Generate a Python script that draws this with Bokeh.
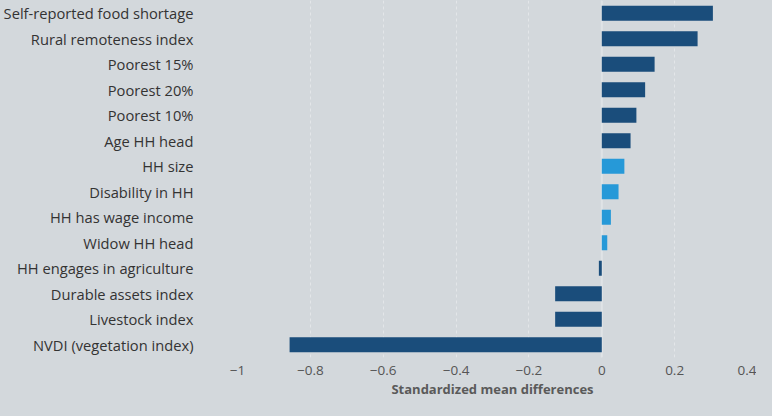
from bokeh.plotting import figure
from bokeh.models import FactorRange, Range1d, FixedTicker, CustomJSTickFormatter, Span, ColumnDataSource
from bokeh.embed import file_html
from bokeh.resources import INLINE

# ---- data (top to bottom as shown) ----
categories = [
    "Self-reported food shortage",
    "Rural remoteness index",
    "Poorest 15%",
    "Poorest 20%",
    "Poorest 10%",
    "Age HH head",
    "HH size",
    "Disability in HH",
    "HH has wage income",
    "Widow HH head",
    "HH engages in agriculture",
    "Durable assets index",
    "Livestock index",
    "NVDI (vegetation index)",
]
values = [0.305, 0.263, 0.145, 0.119, 0.095, 0.079, 0.062, 0.046, 0.025, 0.015,
          -0.008, -0.128, -0.128, -0.857]
highlight = [False, False, False, False, False, False, True, True, True, True,
             False, False, False, False]
x_ticks = [-1, -0.8, -0.6, -0.4, -0.2, 0, 0.2, 0.4]
x_title = "Standardized mean differences"

DARK = "#1a4d7b"
LIGHT = "#2699d8"
BG = "#d3d8dc"
FONT = "Open Sans"

src = ColumnDataSource(dict(
    cat=categories,
    val=values,
    color=[LIGHT if h else DARK for h in highlight],
))

p = figure(
    width=756, height=400,
    y_range=FactorRange(factors=list(reversed(categories)), range_padding=0),
    x_range=Range1d(x_ticks[0], x_ticks[-1]),
    output_backend="svg", toolbar_location=None,
    min_border_left=231, min_border_right=9, min_border_top=0, min_border_bottom=0,
)
p.background_fill_color = BG
p.border_fill_color = BG
p.outline_line_color = None

# grid
p.ygrid.grid_line_color = None
p.xgrid.grid_line_color = "#e3e6e9"
p.xgrid.grid_line_dash = "3 3"
p.xgrid.grid_line_width = 1
p.xgrid.ticker = FixedTicker(ticks=x_ticks)
zero = Span(location=0, dimension="height", line_color="#dfe3e6", line_width=2, level="underlay")
p.add_layout(zero)

p.hbar(y="cat", right="val", left=0, height=0.58, color="color", source=src, line_color=None)

# x axis
p.xaxis.ticker = FixedTicker(ticks=x_ticks)
p.xaxis.formatter = CustomJSTickFormatter(code="""
    const v = Math.round(tick * 10) / 10;
    return v < 0 ? '\u2212' + String(-v) : String(v);
""")
p.xaxis.axis_line_color = None
p.xaxis.major_tick_line_color = None
p.xaxis.minor_tick_line_color = None
p.xaxis.major_label_text_font = FONT
p.xaxis.major_label_text_font_size = "13.5px"
p.xaxis.major_label_text_color = "#555555"
p.xaxis.major_label_standoff = 2
p.xaxis.axis_label = x_title
p.xaxis.axis_label_text_font = FONT
p.xaxis.axis_label_text_font_size = "13px"
p.xaxis.axis_label_text_font_style = "bold"
p.xaxis.axis_label_text_color = "#5a5a5a"
p.xaxis.axis_label_standoff = 2

# y axis
p.yaxis.axis_line_color = None
p.yaxis.major_tick_line_color = None
p.yaxis.minor_tick_line_color = None
p.yaxis.major_label_text_font = FONT
p.yaxis.major_label_text_font_size = "14.7px"
p.yaxis.major_label_text_color = "#333333"
p.yaxis.major_label_standoff = 38

html = file_html(p, INLINE)
html = html.replace("<head>", "<head><style>html,body{background:%s;}</style>" % BG, 1)
open("out.html", "w").write(html)
